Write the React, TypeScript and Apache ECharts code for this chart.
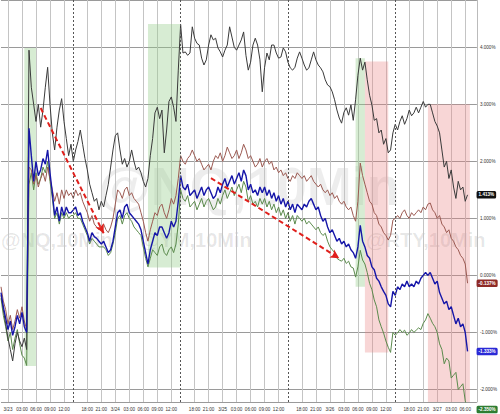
import React, { useEffect, useRef } from "react";
import * as echarts from "echarts";

// ---- data (percent change), one value per 30-minute bar of trading time ----
const blackSeries = [
  -0.35, -0.6, -0.85, -1.1, -1.3, -1.5, -1.2, -1.0, -1.15, -1.25, -1.1, -1.3,
  3.95,
  3.3, 3.0, 2.7, 3.0, 2.6, 2.9, 3.3, 3.65,
  3.0, 2.5, 2.2, 2.6, 2.9, 3.1, 2.7, 2.4, 2.1, 2.3, 2.0, 2.2, 2.35, 2.55, 2.3,
  2.05, 1.85, 1.6, 1.45, 1.3, 1.35, 1.15, 1.3, 1.2, 1.4, 1.6, 1.9, 2.2, 2.45,
  2.5, 2.2, 1.95, 2.05, 1.9, 2.0, 2.2, 2.0, 1.85,
  1.9, 1.8, 1.65, 1.55, 1.7, 2.1, 2.4, 2.85, 2.95, 2.75, 2.9, 2.15, 2.55, 3.05, 3.13, 2.95, 2.7, 3.6,
  4.4,
  3.9, 3.92, 3.86, 3.9, 4.36, 4.16, 4.07, 4.04, 3.81, 3.69, 3.78, 4.04, 4.22, 4.13, 4.16, 3.99, 3.92, 3.83, 3.95, 4.04, 4.36, 4.18,
  4.0, 3.95, 4.04, 4.13, 4.27, 3.86, 3.6, 3.74, 4.04, 4.16, 4.04, 3.78, 3.22, 3.65, 3.9, 3.78, 4.04, 4.04, 3.9, 3.81,
  3.83, 3.99, 3.92, 3.74, 3.64, 3.6, 3.65, 3.81, 3.92, 3.81, 3.69, 3.6, 3.64, 3.78, 3.92, 3.78, 3.69, 3.64, 3.57, 3.43,
  3.34, 3.31, 3.22, 3.08, 2.9, 2.76, 2.67, 2.86, 2.94, 2.81, 2.99, 2.72, 3.08, 3.51,
  3.81, 3.6, 3.74, 3.43, 3.16, 2.99, 2.72, 2.75, 2.5, 2.55, 2.3, 2.4, 2.15, 2.2,
  2.5, 2.65, 2.55, 2.7, 2.8, 2.65, 2.75, 2.9, 2.8, 2.85, 2.95, 2.85, 2.95, 3.05, 2.95, 3.0,
  3.0, 2.85, 2.7, 2.62, 2.5, 2.2, 1.9, 2.0, 1.7, 1.85, 1.55, 1.35, 1.65, 1.5, 1.55, 1.3, 1.413,
];

const brownSeries = [
  -0.2, -0.45, -0.6, -0.85, -0.7, -0.95, -0.8, -0.6, -0.75, -0.55, -0.8, -0.95,
  1.9,
  1.85, 1.6, 1.75, 1.55, 1.7, 1.8, 1.65, 1.9, 1.7, 1.5, 1.3, 1.45, 1.25, 1.5, 1.35, 1.5, 1.4, 1.45, 1.35, 1.5, 1.4, 1.45, 1.3,
  1.2, 1.1, 0.95, 1.05, 0.9, 0.85, 0.8, 0.85, 0.9, 0.8, 0.75, 0.85, 1.0, 1.25,
  1.5, 1.45, 1.35, 1.5, 1.55, 1.4, 1.45, 1.35, 1.3,
  1.25, 1.1, 0.95, 0.75, 0.6, 0.8, 0.95, 1.1, 1.05, 1.2, 1.25, 1.1, 1.0, 1.15, 1.35, 1.25, 1.4, 1.7,
  2.1,
  2.0, 1.95, 2.05, 2.1, 2.2, 2.1, 2.0, 2.05, 1.95, 1.85, 1.9, 1.95, 1.85, 2.0, 2.1, 2.05, 2.15, 2.0, 2.1, 2.25, 2.15, 2.05,
  2.1, 2.2, 2.05, 2.15, 2.3, 2.2, 2.05, 2.1, 2.0, 1.9, 1.95, 2.05, 1.9, 2.0, 2.05, 1.95, 2.0, 1.85, 1.9, 1.8,
  1.85, 1.75, 1.8, 1.7, 1.65, 1.75, 1.7, 1.8, 1.75, 1.7, 1.75, 1.65, 1.7, 1.75, 1.65, 1.6, 1.55, 1.6, 1.5, 1.45,
  1.5, 1.4, 1.45, 1.35, 1.4, 1.3, 1.25, 1.3, 1.2, 1.15, 1.2, 1.05, 0.95, 1.3,
  1.97, 1.75, 1.6, 1.45, 1.3, 1.25, 1.1, 1.05, 0.9, 0.85, 0.75, 0.7, 0.62, 0.7,
  0.97, 1.0, 1.05, 1.0, 1.1, 1.15, 1.05, 1.0, 1.1, 1.05, 1.1, 1.15, 1.1, 1.2, 1.15, 1.25,
  1.27, 1.15, 1.1, 1.0, 1.05, 0.9, 0.85, 0.75, 0.8, 0.65, 0.6, 0.5, 0.45, 0.35, 0.3, 0.2, -0.137,
];

const blueSeries = [
  -0.3, -0.55, -0.75, -0.95, -0.8, -1.05, -0.9, -0.7, -0.85, -0.65, -0.9, -1.0,
  2.58,
  2.1, 1.65, 2.0, 1.75, 1.85, 2.05, 1.95, 2.2, 1.8, 1.45, 1.05, 1.2, 0.95, 1.2, 1.05, 1.2, 1.1, 1.1, 1.15, 1.2, 1.05, 1.1, 0.95,
  0.85, 0.75, 0.6, 0.75, 0.68, 0.65, 0.6, 0.55, 0.6, 0.5, 0.4, 0.45, 0.6, 0.85,
  1.1, 1.15, 1.0, 1.2, 1.25, 1.1, 1.05, 1.0, 0.95,
  0.9, 0.8, 0.6, 0.4, 0.2, 0.45, 0.6, 0.75, 0.7, 0.85, 0.85, 0.75, 0.65, 0.75, 0.95, 0.85, 0.95, 1.3,
  1.75,
  1.55, 1.5, 1.6, 1.4, 1.45, 1.5, 1.35, 1.45, 1.55, 1.4, 1.5, 1.55, 1.45, 1.35, 1.4, 1.55, 1.45, 1.6, 1.7, 1.55, 1.65, 1.75,
  1.6, 1.7, 1.8, 1.65, 1.85, 1.75, 1.5, 1.6, 1.45, 1.5, 1.4, 1.55, 1.45, 1.55, 1.4, 1.5, 1.35, 1.45, 1.3, 1.4,
  1.25, 1.35, 1.2, 1.3, 1.15, 1.25, 1.1, 1.25, 1.2, 1.15, 1.25, 1.2, 1.3, 1.35, 1.25, 1.15, 1.2, 1.05, 0.95, 1.0,
  0.85, 0.75, 0.8, 0.7, 0.6, 0.65, 0.55, 0.6, 0.5, 0.55, 0.45, 0.4, 0.3, 0.5,
  0.88, 0.6, 0.5, 0.35, 0.3, 0.15, 0.1, -0.05, -0.1, -0.2, -0.28, -0.35, -0.5, -0.55,
  -0.28, -0.35, -0.2, -0.25, -0.15, -0.2, -0.1, -0.2, -0.15, -0.2, -0.1, -0.15, -0.05, 0.0, 0.05, 0.0,
  0.05, -0.05, -0.15, -0.1, -0.3, -0.4, -0.5, -0.45, -0.6, -0.55, -0.7, -0.85, -0.75, -0.9, -0.85, -1.0, -1.333,
];

const greenSeries = [
  -0.4, -0.7, -0.9, -1.15, -1.0, -1.3, -1.1, -0.95, -1.2, -1.4, -1.45, -1.58,
  1.6,
  1.8, 1.5, 1.8, 1.6, 1.7, 1.9, 1.8, 2.0, 1.65, 1.35, 1.0, 1.1, 0.9, 1.1, 1.0, 1.1, 1.0, 1.05, 1.05, 1.1, 1.0, 1.0, 0.9,
  0.8, 0.7, 0.55, 0.65, 0.6, 0.55, 0.5, 0.5, 0.5, 0.45, 0.35, 0.4, 0.55, 0.75,
  1.0, 1.05, 0.9, 1.05, 1.1, 1.0, 0.95, 0.85, 0.8,
  0.75, 0.7, 0.5, 0.3, 0.15, 0.3, 0.45, 0.4, 0.35, 0.5, 0.55, 0.4, 0.35, 0.45, 0.5, 0.4, 0.55, 0.9,
  1.5,
  1.35, 1.3, 1.4, 1.2, 1.25, 1.3, 1.15, 1.25, 1.35, 1.2, 1.3, 1.35, 1.25, 1.15, 1.2, 1.35, 1.25, 1.4, 1.5, 1.35, 1.45, 1.55,
  1.4, 1.5, 1.6, 1.45, 1.65, 1.55, 1.3, 1.4, 1.25, 1.3, 1.2, 1.35, 1.25, 1.35, 1.2, 1.3, 1.15, 1.25, 1.1, 1.2,
  1.05, 1.15, 1.0, 1.1, 0.95, 1.05, 0.9, 1.05, 1.0, 0.95, 1.0, 0.9, 0.95, 0.9, 0.85, 0.8, 0.85, 0.75, 0.7, 0.74,
  0.6, 0.5, 0.45, 0.4, 0.3, 0.27, 0.25, 0.3, 0.21, 0.25, 0.15, 0.13, -0.03, 0.15,
  0.44, 0.27, 0.2, 0.05, -0.14, -0.25, -0.43, -0.55, -0.78, -0.9, -1.01, -1.15, -1.26, -1.35,
  -1.0, -1.05, -1.01, -0.95, -1.0, -0.96, -1.05, -1.01, -0.95, -1.0, -0.96, -0.92, -0.95, -0.84, -0.78, -0.67,
  -0.75, -0.84, -0.9, -1.0, -1.2, -1.3, -1.55, -1.45, -1.5, -1.8, -1.75, -1.7, -2.0, -1.95, -1.9, -2.2, -2.35,
];

// ---- time axis: 30-minute bars, daily 17:00-18:00 break removed ----
const axisStart = { month: 3, day: 22, hour: 22, minute: 30 };
const axisEnd = { month: 3, day: 27, hour: 8, minute: 30 };
const tickHours = [0, 3, 6, 9, 12, 18, 21];
const dayBreaks = ["3/23 14:00", "3/24 14:00", "3/25 14:00", "3/26 14:00"];

// shaded zones: [from, top %, to, bottom %]
const greenZones: [string, number, string, number][] = [
  ["3/23 03:30", 3.99, "3/23 06:00", -1.59],
  ["3/24 07:00", 4.41, "3/24 14:00", 0.14],
  ["3/26 05:30", 3.81, "3/26 07:30", -0.2],
];
const redZones: [string, number, string, number][] = [
  ["3/26 07:30", 3.75, "3/26 12:30", -1.35],
  ["3/26 22:00", 3.0, "3/27 07:00", -2.4],
];
// dashed trend arrows: [from time, from %, to time, to %]
const arrows: [string, number, string, number][] = [
  ["3/23 07:00", 2.935, "3/23 21:30", 0.74],
  ["3/24 21:30", 1.707, "3/26 02:00", 0.3],
];
const watermarkBig = "@NQ,10Min";
const watermarkRow = ["@NQ,10Min", "@YM,10Min", "@RTY,10Min"];

const pad = (n: number) => (n < 10 ? "0" + n : "" + n);

function buildTimes(): string[] {
  const out: string[] = [];
  let d = axisStart.day, h = axisStart.hour, m = axisStart.minute;
  for (let guard = 0; guard < 1000; guard++) {
    out.push(`${axisStart.month}/${d} ${pad(h)}:${pad(m)}`);
    if (d === axisEnd.day && h === axisEnd.hour && m === axisEnd.minute) break;
    m += 30;
    if (m === 60) { m = 0; h += 1; }
    if (h === 24) { h = 0; d += 1; }
    if (h === 17) { h = 18; m = 0; }
  }
  return out;
}

const FONT = 'Arial, "Liberation Sans", sans-serif';

export default function App() {
  const ref = useRef<HTMLDivElement>(null);
  useEffect(() => {
    if (!ref.current) return;
    const chart = echarts.init(ref.current, undefined, { renderer: "svg" });
    const times = buildTimes();
    const isTick = (idx: number, val: string) => {
      const t = (val || times[idx]).split(" ")[1];
      const [hh, mm] = t.split(":").map(Number);
      return mm === 0 && tickHours.indexOf(hh) >= 0;
    };
    const tickLabel = (val: string) => {
      const [date, t] = val.split(" ");
      return t === "00:00" ? date : t;
    };
    const badge = (color: string) => ({
      show: true,
      formatter: (p: any) => Number(p.value).toFixed(3) + "%",
      backgroundColor: color,
      color: "#fff",
      fontSize: 4.6,
      fontWeight: "bold" as const,
      fontFamily: FONT,
      padding: [1.5, 2, 1, 2],
      borderRadius: 1.5,
      distance: 9,
    });
    const lineSeries = (name: string, data: number[], color: string, width: number, extra: any = {}) => ({
      name,
      type: "line",
      data,
      symbol: "none",
      showSymbol: false,
      lineStyle: { color, width },
      itemStyle: { color },
      endLabel: badge(extra.badgeColor || color),
      z: extra.z || 2,
      ...extra.more,
    });

    const wmLeft = [1, 140, 366];
    const option: any = {
      animation: false,
      backgroundColor: "#ffffff",
      grid: { left: 1, right: 21, top: 0, bottom: 12, containLabel: false },
      graphic: [
        {
          type: "text",
          x: 98,
          y: 186,
          z: 0,
          silent: true,
          style: {
            text: watermarkBig,
            font: `bold 54px ${FONT}`,
            fill: "rgba(0,0,0,0.07)",
            verticalAlign: "middle",
          },
        },
        ...watermarkRow.map((t, i) => ({
          type: "text",
          left: wmLeft[i],
          top: 230,
          z: 0,
          silent: true,
          style: { text: t, font: `bold 20px ${FONT}`, fill: "rgba(0,0,0,0.1)" },
        })),
      ],
      xAxis: {
        type: "category",
        data: times,
        boundaryGap: false,
        axisLine: { show: false },
        axisTick: { show: false },
        axisLabel: {
          interval: (i: number, v: string) => isTick(i, v),
          formatter: (v: string) => tickLabel(v),
          fontSize: 4.6,
          color: "#333",
          fontFamily: FONT,
          margin: 5,
        },
        splitLine: {
          show: true,
          interval: (i: number, v: string) => isTick(i, v),
          lineStyle: { color: "#c4c4c4", width: 1 },
        },
      },
      yAxis: {
        type: "value",
        position: "right",
        min: -2.22,
        max: 4.83,
        splitNumber: 7,
        axisLine: { show: true, lineStyle: { color: "#bbbbbb", width: 1 } },
        axisTick: { show: false },
        axisLabel: {
          formatter: (v: number) => v.toFixed(3) + "%",
          fontSize: 4.6,
          color: "#333",
          fontFamily: FONT,
          margin: 3,
          showMinLabel: false,
          showMaxLabel: false,
        },
        splitLine: { show: true, lineStyle: { color: "#9a9a9a", width: 1 } },
      },
      series: [
        lineSeries("RTY", greenSeries, "#5b8a4c", 1, {
          badgeColor: "#2f7d32",
          more: {
            markArea: {
              silent: true,
              data: [
                ...greenZones.map(([x1, y1, x2, y2]) => [
                  { xAxis: x1, yAxis: y1, itemStyle: { color: "rgba(150,205,140,0.38)" } },
                  { xAxis: x2, yAxis: y2 },
                ]),
                ...redZones.map(([x1, y1, x2, y2]) => [
                  { xAxis: x1, yAxis: y1, itemStyle: { color: "rgba(235,130,130,0.33)" } },
                  { xAxis: x2, yAxis: y2 },
                ]),
              ],
            },
          },
        }),
        lineSeries("ES", brownSeries, "#9c5a52", 1, {
          badgeColor: "#8e2a26",
          more: {
            markLine: {
              silent: true,
              symbol: "none",
              label: { show: false },
              lineStyle: { color: "#555", type: [2, 2], width: 1 },
              data: dayBreaks.map((t) => ({ xAxis: t })),
            },
          },
        }),
        lineSeries("YM", blackSeries, "#3a3a3a", 1, { badgeColor: "#111111" }),
        lineSeries("NQ", blueSeries, "#1616a8", 1.4, {
          badgeColor: "#2a2ad6",
          z: 3,
          more: {
            markLine: {
              silent: true,
              symbol: ["none", "arrow"],
              symbolSize: [7, 9],
              label: { show: false },
              lineStyle: { color: "#e0201c", type: [5, 3], width: 2 },
              data: arrows.map(([x1, y1, x2, y2]) => [
                { coord: [x1, y1] },
                { coord: [x2, y2] },
              ]),
            },
          },
        }),
      ],
    };
    chart.setOption(option);
    return () => chart.dispose();
  }, []);
  return (
    <div
      ref={ref}
      style={{ position: "fixed", left: 0, top: 0, width: 500, height: 414, background: "#fff" }}
    />
  );
}
